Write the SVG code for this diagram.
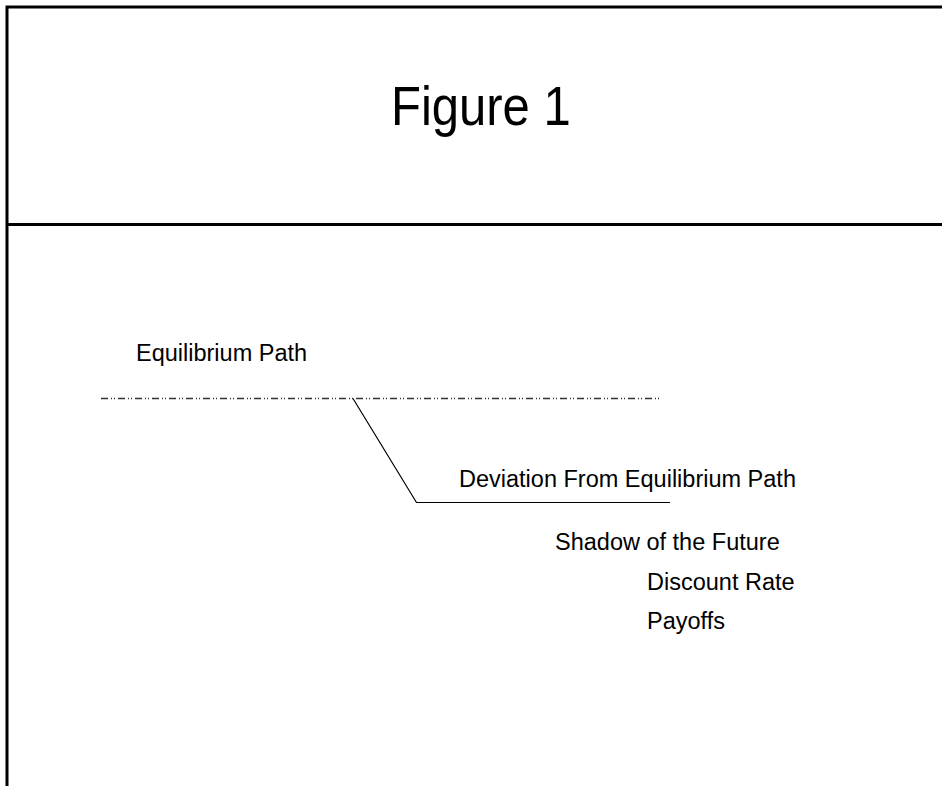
<svg xmlns="http://www.w3.org/2000/svg" width="942" height="786" viewBox="0 0 942 786">
<style>
.frame{stroke:#000;stroke-width:3;fill:none}
.lbl{font-family:"Liberation Sans",Arial,sans-serif;font-size:23.5px;fill:#000}
.title{font-family:"Liberation Sans",Arial,sans-serif;font-size:56px;fill:#000}
.dash{stroke:#333;stroke-width:1.4;stroke-dasharray:7 3 1 2 1 3;fill:none}
.solid{stroke:#000;stroke-width:1.2;fill:none}
</style>
<rect width="942" height="786" fill="#fff"/>
<g id="frame">
<path class="frame" d="M7 786 V7 H942"/>
<path class="frame" d="M7 224.5 H942"/>
</g>
<g id="title"><text class="title" transform="translate(391 125) scale(0.875 1)">Figure 1</text></g>
<g id="equilibrium"><text class="lbl" x="136" y="361">Equilibrium Path</text></g>
<g id="deviation"><text class="lbl" x="459" y="487">Deviation From Equilibrium Path</text></g>
<g id="shadow"><text class="lbl" x="555" y="550">Shadow of the Future</text></g>
<g id="discount"><text class="lbl" x="647" y="590">Discount Rate</text></g>
<g id="payoffs"><text class="lbl" x="647" y="629">Payoffs</text></g>
<g id="connectors">
<path class="dash" d="M101 398.5 H662"/>
<path class="solid" d="M353 398.5 L416.5 502.5 H670"/>
</g>
</svg>
